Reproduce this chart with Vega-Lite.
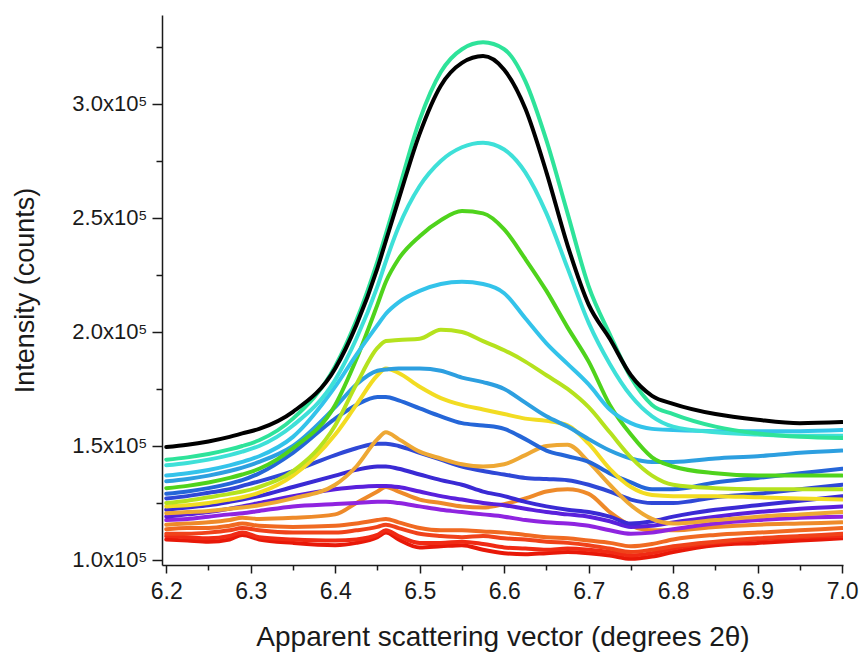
{
  "$schema": "https://vega.github.io/schema/vega-lite/v6.json",
  "width": 681,
  "height": 550,
  "autosize": {"type": "none"},
  "padding": {"left": 162, "top": 15, "right": 17, "bottom": 89},
  "background": "white",
  "config": {
    "view": {"stroke": null},
    "font": "Liberation Sans",
    "axis": {
      "domainColor": "#1a1a1a",
      "domainWidth": 1.5,
      "tickColor": "#1a1a1a",
      "tickWidth": 1.5,
      "labelColor": "#1a1a1a",
      "titleColor": "#1a1a1a",
      "labelFont": "Liberation Sans",
      "titleFont": "Liberation Sans",
      "titleFontWeight": "normal",
      "grid": false
    }
  },
  "data": {
    "values": [
      {"x": 6.2, "black": 149500, "spring": 144000, "turquoise": 141500, "sky": 137000, "green": 131500, "yellowgreen": 125000, "azure": 134500, "yellow": 123500, "royal": 129000, "gold": 120500, "blue": 127000, "blueviolet": 122000, "violet": 119000, "purple": 117500, "orange": 115500, "orangered": 113500, "redorange": 111500, "scarlet": 110500, "red": 109000},
      {"x": 6.225, "black": 150500, "spring": 145000, "turquoise": 142500, "sky": 138000, "green": 132500, "yellowgreen": 126000, "azure": 135500, "yellow": 124000, "royal": 130000, "gold": 121000, "blue": 128000, "blueviolet": 123000, "violet": 120000, "purple": 118000, "orange": 116000, "orangered": 114000, "redorange": 111500, "scarlet": 110000, "red": 108500},
      {"x": 6.25, "black": 152000, "spring": 146500, "turquoise": 144000, "sky": 139500, "green": 134000, "yellowgreen": 127500, "azure": 137000, "yellow": 125000, "royal": 131500, "gold": 121500, "blue": 129500, "blueviolet": 124000, "violet": 121000, "purple": 119000, "orange": 116500, "orangered": 114000, "redorange": 112000, "scarlet": 109500, "red": 108000},
      {"x": 6.275, "black": 154000, "spring": 148500, "turquoise": 146000, "sky": 141500, "green": 136000, "yellowgreen": 129000, "azure": 139000, "yellow": 126500, "royal": 133500, "gold": 122500, "blue": 131000, "blueviolet": 125500, "violet": 122500, "purple": 120000, "orange": 117500, "orangered": 115000, "redorange": 113000, "scarlet": 110500, "red": 109000},
      {"x": 6.29, "black": 155500, "spring": 150000, "turquoise": 147500, "sky": 143000, "green": 137500, "yellowgreen": 130000, "azure": 140500, "yellow": 127500, "royal": 135000, "gold": 123000, "blue": 132500, "blueviolet": 126500, "violet": 123500, "purple": 120500, "orange": 118500, "orangered": 116000, "redorange": 114000, "scarlet": 112000, "red": 111000},
      {"x": 6.31, "black": 157500, "spring": 152500, "turquoise": 150000, "sky": 145500, "green": 140000, "yellowgreen": 132000, "azure": 143000, "yellow": 129500, "royal": 138000, "gold": 124000, "blue": 134500, "blueviolet": 128000, "violet": 125000, "purple": 121500, "orange": 118000, "orangered": 115000, "redorange": 113000, "scarlet": 110000, "red": 109000},
      {"x": 6.35, "black": 165000, "spring": 162000, "turquoise": 159000, "sky": 154000, "green": 149000, "yellowgreen": 139000, "azure": 150000, "yellow": 137000, "royal": 147000, "gold": 127000, "blue": 139000, "blueviolet": 132000, "violet": 128000, "purple": 123500, "orange": 118500, "orangered": 114500, "redorange": 112000, "scarlet": 109000, "red": 107500},
      {"x": 6.4, "black": 184000, "spring": 185000, "turquoise": 179000, "sky": 176000, "green": 168000, "yellowgreen": 159000, "azure": 167000, "yellow": 155000, "royal": 162000, "gold": 133000, "blue": 146000, "blueviolet": 137000, "violet": 131000, "purple": 124500, "orange": 120000, "orangered": 115000, "redorange": 112000, "scarlet": 108500, "red": 106500},
      {"x": 6.425, "black": 203000, "spring": 205000, "turquoise": 197000, "sky": 190000, "green": 188000, "yellowgreen": 177000, "azure": 177000, "yellow": 168000, "royal": 168000, "gold": 141000, "blue": 149000, "blueviolet": 139500, "violet": 132000, "purple": 125000, "orange": 125000, "orangered": 116000, "redorange": 113000, "scarlet": 109000, "red": 107500},
      {"x": 6.45, "black": 228000, "spring": 231000, "turquoise": 220000, "sky": 203000, "green": 212000, "yellowgreen": 193000, "azure": 183000, "yellow": 181000, "royal": 171500, "gold": 153000, "blue": 151000, "blueviolet": 141000, "violet": 132500, "purple": 125500, "orange": 130000, "orangered": 117500, "redorange": 114500, "scarlet": 111000, "red": 110000},
      {"x": 6.46, "black": 240000, "spring": 243000, "turquoise": 231000, "sky": 208000, "green": 222000, "yellowgreen": 196000, "azure": 183500, "yellow": 184000, "royal": 171500, "gold": 156000, "blue": 151000, "blueviolet": 141000, "violet": 132500, "purple": 125500, "orange": 132000, "orangered": 118000, "redorange": 115500, "scarlet": 113000, "red": 112000},
      {"x": 6.475, "black": 258000, "spring": 262000, "turquoise": 246000, "sky": 213000, "green": 232000, "yellowgreen": 196500, "azure": 184000, "yellow": 182000, "royal": 170000, "gold": 153000, "blue": 150000, "blueviolet": 140000, "violet": 132000, "purple": 125000, "orange": 130000, "orangered": 116500, "redorange": 114000, "scarlet": 110500, "red": 109000},
      {"x": 6.5, "black": 287000, "spring": 293000, "turquoise": 264000, "sky": 218000, "green": 242000, "yellowgreen": 197000, "azure": 184000, "yellow": 176000, "royal": 166500, "gold": 147500, "blue": 147000, "blueviolet": 137500, "violet": 130000, "purple": 123500, "orange": 126500, "orangered": 114000, "redorange": 111500, "scarlet": 107500, "red": 105500},
      {"x": 6.525, "black": 308000, "spring": 314000, "turquoise": 275000, "sky": 221000, "green": 249000, "yellowgreen": 201000, "azure": 183000, "yellow": 171000, "royal": 163000, "gold": 144500, "blue": 144000, "blueviolet": 135000, "violet": 128000, "purple": 122000, "orange": 125000, "orangered": 113000, "redorange": 110500, "scarlet": 107500, "red": 106000},
      {"x": 6.55, "black": 318000, "spring": 324000, "turquoise": 281000, "sky": 222000, "green": 253000, "yellowgreen": 200000, "azure": 180000, "yellow": 168000, "royal": 160000, "gold": 142000, "blue": 141000, "blueviolet": 133000, "violet": 126500, "purple": 121000, "orange": 123500, "orangered": 113000, "redorange": 110000, "scarlet": 108000, "red": 106500},
      {"x": 6.575, "black": 321000, "spring": 327000, "turquoise": 283000, "sky": 221000, "green": 252000, "yellowgreen": 196000, "azure": 178000, "yellow": 166000, "royal": 159000, "gold": 141000, "blue": 139000, "blueviolet": 130000, "violet": 125000, "purple": 120000, "orange": 123000, "orangered": 112500, "redorange": 110500, "scarlet": 107000, "red": 104500},
      {"x": 6.6, "black": 315000, "spring": 324000, "turquoise": 280000, "sky": 217000, "green": 245000, "yellowgreen": 192000, "azure": 175000, "yellow": 164000, "royal": 157500, "gold": 142000, "blue": 137500, "blueviolet": 128000, "violet": 124000, "purple": 119000, "orange": 124500, "orangered": 112000, "redorange": 109500, "scarlet": 105500, "red": 103000},
      {"x": 6.625, "black": 298000, "spring": 310000, "turquoise": 270000, "sky": 206000, "green": 232000, "yellowgreen": 187000, "azure": 169000, "yellow": 162000, "royal": 153000, "gold": 146000, "blue": 136000, "blueviolet": 125500, "violet": 122500, "purple": 117500, "orange": 127000, "orangered": 111000, "redorange": 109000, "scarlet": 105000, "red": 102500},
      {"x": 6.65, "black": 270000, "spring": 284000, "turquoise": 252000, "sky": 195000, "green": 218000, "yellowgreen": 181000, "azure": 163000, "yellow": 161000, "royal": 148000, "gold": 150000, "blue": 135500, "blueviolet": 123500, "violet": 121000, "purple": 116500, "orange": 130000, "orangered": 110000, "redorange": 108000, "scarlet": 104500, "red": 103000},
      {"x": 6.675, "black": 238000, "spring": 252000, "turquoise": 228000, "sky": 186000, "green": 202000, "yellowgreen": 175000, "azure": 158500, "yellow": 159000, "royal": 145500, "gold": 150500, "blue": 135000, "blueviolet": 122000, "violet": 120000, "purple": 116000, "orange": 131000, "orangered": 109500, "redorange": 107500, "scarlet": 105000, "red": 103500},
      {"x": 6.7, "black": 212000, "spring": 220000, "turquoise": 204000, "sky": 177000, "green": 187000, "yellowgreen": 167000, "azure": 153000, "yellow": 151000, "royal": 143000, "gold": 143000, "blue": 133000, "blueviolet": 121000, "violet": 119000, "purple": 115000, "orange": 129000, "orangered": 108500, "redorange": 106500, "scarlet": 104500, "red": 103000},
      {"x": 6.725, "black": 197000, "spring": 199000, "turquoise": 186000, "sky": 166000, "green": 168000, "yellowgreen": 156000, "azure": 148000, "yellow": 140000, "royal": 138000, "gold": 133000, "blue": 130000, "blueviolet": 119000, "violet": 117000, "purple": 113000, "orange": 121000, "orangered": 107500, "redorange": 105000, "scarlet": 103500, "red": 102000},
      {"x": 6.75, "black": 181000, "spring": 180000, "turquoise": 172000, "sky": 160000, "green": 155000, "yellowgreen": 145000, "azure": 144500, "yellow": 132000, "royal": 134000, "gold": 124000, "blue": 126500, "blueviolet": 116000, "violet": 114500, "purple": 111500, "orange": 115000, "orangered": 106000, "redorange": 103500, "scarlet": 102000, "red": 100500},
      {"x": 6.775, "black": 172000, "spring": 168000, "turquoise": 163000, "sky": 157500, "green": 145000, "yellowgreen": 137000, "azure": 143000, "yellow": 128500, "royal": 131000, "gold": 118000, "blue": 125000, "blueviolet": 117000, "violet": 115000, "purple": 112000, "orange": 113000, "orangered": 107000, "redorange": 104500, "scarlet": 103000, "red": 101500},
      {"x": 6.8, "black": 168500, "spring": 164000, "turquoise": 158500, "sky": 157000, "green": 141000, "yellowgreen": 133000, "azure": 143000, "yellow": 128000, "royal": 131000, "gold": 116000, "blue": 125000, "blueviolet": 119000, "violet": 116500, "purple": 113500, "orange": 113000, "orangered": 109000, "redorange": 106000, "scarlet": 105000, "red": 103500},
      {"x": 6.85, "black": 164000, "spring": 158500, "turquoise": 156000, "sky": 156500, "green": 138000, "yellowgreen": 131500, "azure": 144500, "yellow": 128000, "royal": 134000, "gold": 117500, "blue": 127500, "blueviolet": 122000, "violet": 119000, "purple": 116000, "orange": 114500, "orangered": 111000, "redorange": 108000, "scarlet": 107500, "red": 106500},
      {"x": 6.9, "black": 161500, "spring": 155500, "turquoise": 155000, "sky": 156500, "green": 137000, "yellowgreen": 131000, "azure": 145500, "yellow": 127500, "royal": 136000, "gold": 119000, "blue": 129000, "blueviolet": 124000, "violet": 121000, "purple": 117500, "orange": 115500, "orangered": 112000, "redorange": 109500, "scarlet": 109000, "red": 107500},
      {"x": 6.95, "black": 160000, "spring": 154000, "turquoise": 154500, "sky": 156500, "green": 137000, "yellowgreen": 131000, "azure": 147000, "yellow": 127000, "royal": 138000, "gold": 120000, "blue": 131000, "blueviolet": 126000, "violet": 122500, "purple": 118500, "orange": 116000, "orangered": 113000, "redorange": 110500, "scarlet": 110000, "red": 108500},
      {"x": 7.0, "black": 160500, "spring": 153500, "turquoise": 154500, "sky": 157000, "green": 137000, "yellowgreen": 131000, "azure": 148000, "yellow": 126500, "royal": 140000, "gold": 121000, "blue": 133000, "blueviolet": 128000, "violet": 123500, "purple": 119000, "orange": 116500, "orangered": 114000, "redorange": 111500, "scarlet": 110500, "red": 109500}
    ]
  },
  "transform": [
    {
      "fold": ["red", "scarlet", "redorange", "orangered", "orange", "purple", "violet", "blueviolet", "blue", "gold", "royal", "yellow", "azure", "yellowgreen", "green", "sky", "turquoise", "spring", "black"],
      "as": ["scan", "intensity"]
    }
  ],
  "mark": {"type": "line", "strokeWidth": 4, "interpolate": "monotone", "strokeCap": "round", "strokeJoin": "round", "clip": true},
  "encoding": {
    "x": {
      "field": "x",
      "type": "quantitative",
      "scale": {"domain": [6.195, 7.001], "nice": false, "zero": false},
      "axis": {
        "title": "Apparent scattering vector (degrees 2θ)",
        "titleFontSize": 28,
        "titlePadding": 20,
        "values": [6.2, 6.25, 6.3, 6.35, 6.4, 6.45, 6.5, 6.55, 6.6, 6.65, 6.7, 6.75, 6.8, 6.85, 6.9, 6.95, 7.0],
        "labelExpr": "round(datum.value * 100) % 10 == 0 ? format(datum.value, '.1f') : ''",
        "labelFontSize": 23,
        "labelPadding": 7,
        "labelFlush": false,
        "labelOverlap": false,
        "tickSize": {"condition": {"test": "round(datum.value * 100) % 10 == 0", "value": 8}, "value": 5}
      }
    },
    "y": {
      "field": "intensity",
      "type": "quantitative",
      "scale": {"domain": [97800, 339000], "nice": false, "zero": false},
      "axis": {
        "title": "Intensity (counts)",
        "titleFontSize": 27,
        "titlePadding": 32,
        "values": [100000, 125000, 150000, 175000, 200000, 225000, 250000, 275000, 300000, 325000],
        "labelExpr": "datum.value % 50000 == 0 ? format(datum.value / 100000, '.1f') + 'x10⁵' : ''",
        "labelFontSize": 22,
        "labelPadding": 5,
        "labelOverlap": false,
        "labelFlush": false,
        "tickSize": {"condition": {"test": "datum.value % 50000 == 0", "value": 10}, "value": 6}
      }
    },
    "color": {
      "field": "scan",
      "type": "nominal",
      "legend": null,
      "scale": {
        "domain": ["black", "spring", "turquoise", "sky", "green", "yellowgreen", "azure", "yellow", "royal", "gold", "blue", "blueviolet", "violet", "purple", "orange", "orangered", "redorange", "scarlet", "red"],
        "range": ["#000000", "#2ee39a", "#3ee0d8", "#33c3ea", "#4fd31c", "#b5e21e", "#2d9fe0", "#f2dc22", "#2566d8", "#eea834", "#2f48d6", "#3a2ad4", "#5a20dc", "#8f24e0", "#ee8a2a", "#f06a22", "#f0421a", "#f02a14", "#e81808"]
      }
    }
  }
}
